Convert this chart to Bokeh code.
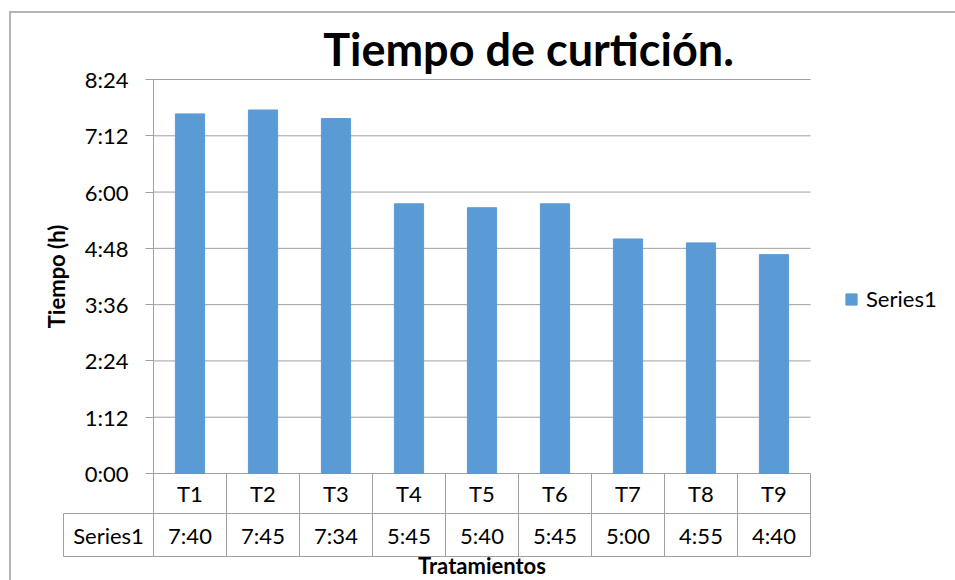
from bokeh.plotting import figure
from bokeh.models import Range1d, FixedTicker, Legend, LegendItem, Label
from bokeh.core.properties import value
from bokeh.embed import file_html
from bokeh.resources import INLINE

# ---- data ----
categories = ["T1", "T2", "T3", "T4", "T5", "T6", "T7", "T8", "T9"]
minutes = [460, 465, 454, 345, 340, 345, 300, 295, 280]   # curing time in minutes
series_name = "Series1"
tick_minutes = [0, 72, 144, 216, 288, 360, 432, 504]
tick_labels = ["0:00", "1:12", "2:24", "3:36", "4:48", "6:00", "7:12", "8:24"]
title_text = "Tiempo de curtición."
y_label = "Tiempo (h)"
x_label = "Tratamientos"

value_labels = [f"{m // 60}:{m % 60:02d}" for m in minutes]

# ---- style / layout ----
FONT = "Lato"
GRID = "#a0a0a0"
BAR = "#5b9bd5"
W, H = 955, 580
PLOT_LEFT, COL_PX = 153, 73.0
ZERO_Y = 473                      # page y of the 0:00 line
PX_PER_MIN = 394 / 504.0
ROW1 = 40 / PX_PER_MIN
ROW2 = 43 / PX_PER_MIN
TABLE_BOTTOM = -(ROW1 + ROW2)
N = len(categories)
CELL_LEFT = -90 / COL_PX
FS = "22px"

p = figure(width=W, height=H, output_backend="svg", toolbar_location=None,
           x_range=Range1d(-PLOT_LEFT / COL_PX, (W - PLOT_LEFT) / COL_PX),
           y_range=Range1d(-(H - ZERO_Y) / PX_PER_MIN, ZERO_Y / PX_PER_MIN),
           min_border_left=0, min_border_right=0, min_border_top=0,
           min_border_bottom=0)
p.outline_line_color = None
p.background_fill_color = None
p.border_fill_color = None
p.styles = {
    "background": ("linear-gradient(#b4b4b4,#b4b4b4) 10px 11px / 945px 2px no-repeat, "
                   "linear-gradient(#b4b4b4,#b4b4b4) 9px 11px / 2px 569px no-repeat, white"),
}

# title
p.add_layout(Label(x=(528 - PLOT_LEFT) / COL_PX, y=(ZERO_Y - 48) / PX_PER_MIN,
                   text=title_text, text_align="center", text_baseline="alphabetic",
                   text_font=FONT, text_font_size="45px", text_font_style="bold",
                   text_color="black"))

# y axis, at the left edge of the plot area (x = 0)
yax = p.yaxis[0]
yax.fixed_location = 0
yax.ticker = FixedTicker(ticks=tick_minutes)
yax.major_label_overrides = dict(zip(tick_minutes, tick_labels))
yax.bounds = (0, tick_minutes[-1])
yax.axis_line_color = GRID
yax.major_tick_line_color = GRID
yax.major_tick_out = 8
yax.major_tick_in = 0
yax.minor_tick_line_color = None
yax.major_label_text_font = FONT
yax.major_label_text_font_size = FS
yax.major_label_text_color = "black"
yax.major_label_standoff = 17
yax.axis_label = y_label
yax.axis_label_text_font = FONT
yax.axis_label_text_font_size = FS
yax.axis_label_text_font_style = "bold"
yax.axis_label_text_color = "black"
yax.axis_label_standoff = 12

# x axis just below the data table (only its label)
xax = p.xaxis[0]
xax.fixed_location = TABLE_BOTTOM + 5 / PX_PER_MIN
xax.ticker = FixedTicker(ticks=[])
xax.bounds = (0, N)
xax.axis_line_color = None
xax.major_tick_line_color = None
xax.major_tick_out = 0
xax.major_tick_in = 0
xax.minor_tick_line_color = None
xax.major_label_text_font_size = "0px"
xax.major_label_standoff = 0
xax.axis_label = x_label
xax.axis_label_text_font = FONT
xax.axis_label_text_font_size = FS
xax.axis_label_text_font_style = "bold"
xax.axis_label_text_color = "black"
xax.axis_label_standoff = 0

p.xgrid.visible = False
p.ygrid.visible = False

# horizontal grid lines, limited to the plot area
p.segment(x0=[0] * len(tick_minutes), x1=[N] * len(tick_minutes),
          y0=tick_minutes, y1=tick_minutes, line_color=GRID, line_width=1)

# bars
xs = [i + 0.5 for i in range(N)]
bars = p.vbar(x=xs, top=minutes, width=0.4, bottom=0, fill_color=BAR, line_color=BAR)

# data table below the plot
cols = list(range(0, N + 1))
p.segment(x0=cols, x1=cols, y0=[0] * len(cols), y1=[TABLE_BOTTOM] * len(cols),
          line_color=GRID, line_width=1)
p.segment(x0=[CELL_LEFT, CELL_LEFT, CELL_LEFT], x1=[N, N, CELL_LEFT],
          y0=[-ROW1, TABLE_BOTTOM, -ROW1], y1=[-ROW1, TABLE_BOTTOM, TABLE_BOTTOM],
          line_color=GRID, line_width=1)
p.text(x=xs, y=[-ROW1 / 2] * N, text=categories, text_align="center",
       text_baseline="middle", text_font=value(FONT), text_font_size=FS,
       text_color="black")
p.text(x=xs, y=[-ROW1 - ROW2 / 2] * N, text=value_labels, text_align="center",
       text_baseline="middle", text_font=value(FONT), text_font_size=FS,
       text_color="black")
p.text(x=[CELL_LEFT / 2], y=[-ROW1 - ROW2 / 2], text=[series_name], text_align="center",
       text_baseline="middle", text_font=value(FONT), text_font_size=FS,
       text_color="black")

# legend to the right of the plot area
legend = Legend(items=[LegendItem(label=series_name, renderers=[bars])],
                location=(844, H - 312), glyph_width=14, glyph_height=14,
                label_standoff=8, label_height=14, padding=0, margin=0,
                border_line_color=None, background_fill_alpha=0, label_text_font=FONT,
                label_text_font_size=FS, label_text_color="black")
p.add_layout(legend)

open("out.html", "w").write(file_html(p, INLINE))
